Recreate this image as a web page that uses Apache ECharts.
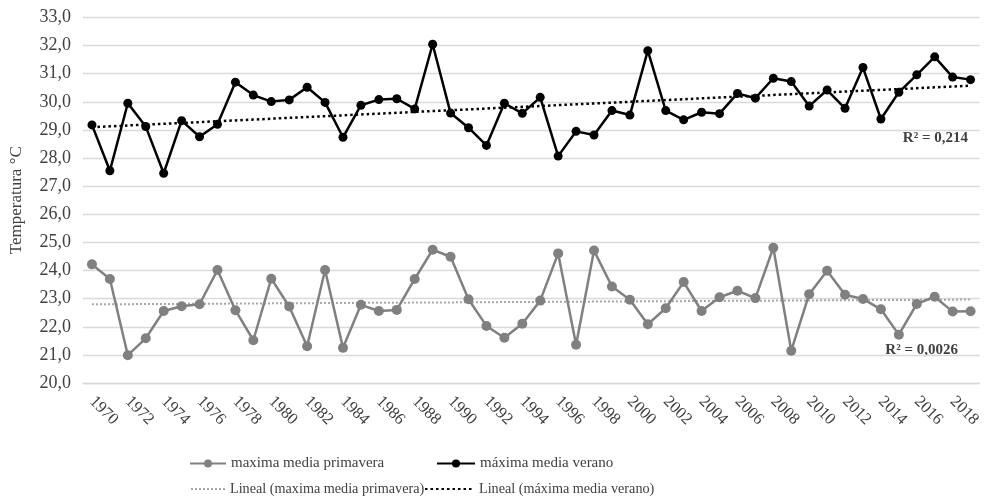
<!DOCTYPE html>
<html>
<head>
<meta charset="utf-8">
<title>Temperatura máxima media</title>
<script src="https://cdn.jsdelivr.net/npm/echarts@6/dist/echarts.min.js"></script>
<style>
  html, body { margin: 0; padding: 0; background: #ffffff; }
  #chart { width: 984px; height: 502px; }
</style>
</head>
<body>
<div id="chart"></div>
<script>
// Years of record (labels shown every second year)
const years = [
  '1970','1971','1972','1973','1974','1975','1976','1977','1978','1979',
  '1980','1981','1982','1983','1984','1985','1986','1987','1988','1989',
  '1990','1991','1992','1993','1994','1995','1996','1997','1998','1999',
  '2000','2001','2002','2003','2004','2005','2006','2007','2008','2009',
  '2010','2011','2012','2013','2014','2015','2016','2017','2018','2019'
];

// Mean maximum temperature in spring (°C)
const primavera = [
  24.22, 23.70, 20.99, 21.59, 22.56, 22.73, 22.80, 24.02, 22.59, 21.52,
  23.71, 22.72, 21.31, 24.02, 21.25, 22.78, 22.56, 22.60, 23.70, 24.74,
  24.49, 22.98, 22.03, 21.61, 22.11, 22.93, 24.61, 21.36, 24.71, 23.43,
  22.96, 22.09, 22.66, 23.59, 22.56, 23.05, 23.28, 23.02, 24.81, 21.15,
  23.16, 23.99, 23.14, 22.99, 22.62, 21.72, 22.81, 23.07, 22.54, 22.55
];

// Mean maximum temperature in summer (°C)
const verano = [
  29.18, 27.55, 29.95, 29.12, 27.46, 29.33, 28.76, 29.20, 30.70, 30.24,
  30.01, 30.07, 30.52, 29.98, 28.74, 29.88, 30.08, 30.11, 29.75, 32.05,
  29.60, 29.08, 28.45, 29.95, 29.59, 30.16, 28.07, 28.95, 28.82, 29.69,
  29.53, 31.82, 29.69, 29.36, 29.63, 29.58, 30.30, 30.13, 30.84, 30.72,
  29.85, 30.42, 29.77, 31.22, 29.39, 30.34, 30.96, 31.60, 30.88, 30.79
];

// Coefficients of determination of the linear trends
const r2Primavera = '0,0026';
const r2Verano = '0,214';

// Least-squares linear trend over the series index
function linearTrend(values) {
  const n = values.length;
  let sx = 0, sy = 0, sxx = 0, sxy = 0;
  values.forEach((y, x) => { sx += x; sy += y; sxx += x * x; sxy += x * y; });
  const b = (n * sxy - sx * sy) / (n * sxx - sx * sx);
  const a = (sy - b * sx) / n;
  return values.map((_, x) => +(a + b * x).toFixed(4));
}

const FONT = '"Liberation Serif", "Times New Roman", serif';
const TXT = '#404040';

const chart = echarts.init(document.getElementById('chart'), null, { renderer: 'canvas' });

function legendAt(left, top, itemWidth, fontSize, name, hideSymbol) {
  const item = { name: name };
  if (hideSymbol) item.itemStyle = { opacity: 0 };
  return {
    orient: 'horizontal',
    left: left,
    top: top,
    padding: 0,
    itemGap: 0,
    itemWidth: itemWidth,
    itemHeight: 10,
    selectedMode: false,
    textStyle: { fontFamily: FONT, fontSize: fontSize, color: TXT },
    data: [item]
  };
}

chart.setOption({
  animation: false,
  backgroundColor: '#ffffff',
  grid: { left: 80, right: 4, top: 17.5, bottom: 119, containLabel: false },
  xAxis: {
    type: 'category',
    data: years,
    boundaryGap: true,
    axisLine: { show: true, lineStyle: { color: '#d9d9d9', width: 1.3 } },
    axisTick: { show: false },
    axisLabel: {
      interval: 1,
      rotate: -45,
      margin: 16,
      fontFamily: FONT,
      fontSize: 16.5,
      color: TXT
    }
  },
  yAxis: {
    type: 'value',
    min: 20,
    max: 33,
    interval: 1,
    name: 'Temperatura °C',
    nameLocation: 'middle',
    nameGap: 58,
    nameRotate: 90,
    nameTextStyle: { fontFamily: FONT, fontSize: 17, color: TXT },
    axisLine: { show: false },
    axisTick: { show: false },
    splitLine: { lineStyle: { color: '#d9d9d9', width: 1.3 } },
    axisLabel: {
      margin: 12,
      fontFamily: FONT,
      fontSize: 18,
      color: TXT,
      formatter: v => v.toFixed(1).replace('.', ',')
    }
  },
  legend: [
    legendAt(189, 456, 36, 15, 'maxima media primavera', false),
    legendAt(436, 456, 38, 15, 'máxima media verano', false),
    legendAt(190, 482, 34, 14.2, 'Lineal (maxima media primavera)', true),
    legendAt(424, 482, 49, 14.2, 'Lineal (máxima media verano)', true)
  ],
  graphic: [
    {
      type: 'text', right: 16, top: 131,
      style: { text: 'R² = ' + r2Verano, font: 'bold 15px ' + FONT, fill: TXT }
    },
    {
      type: 'text', right: 26, top: 343,
      style: { text: 'R² = ' + r2Primavera, font: 'bold 15px ' + FONT, fill: TXT }
    }
  ],
  series: [
    {
      name: 'maxima media primavera',
      type: 'line',
      data: primavera,
      symbol: 'circle',
      symbolSize: 10,
      lineStyle: { color: '#808080', width: 2.5 },
      itemStyle: { color: '#808080' },
      z: 3
    },
    {
      name: 'máxima media verano',
      type: 'line',
      data: verano,
      symbol: 'circle',
      symbolSize: 9,
      lineStyle: { color: '#000000', width: 2.5 },
      itemStyle: { color: '#000000' },
      z: 3
    },
    {
      name: 'Lineal (maxima media primavera)',
      type: 'line',
      data: linearTrend(primavera),
      symbol: 'none',
      lineStyle: { color: '#a6a6a6', width: 2, type: [2, 2] },
      itemStyle: { color: '#a6a6a6' },
      z: 2
    },
    {
      name: 'Lineal (máxima media verano)',
      type: 'line',
      data: linearTrend(verano),
      symbol: 'none',
      lineStyle: { color: '#000000', width: 2.5, type: [2.5, 3] },
      itemStyle: { color: '#000000' },
      z: 2
    }
  ]
});
</script>
</body>
</html>
